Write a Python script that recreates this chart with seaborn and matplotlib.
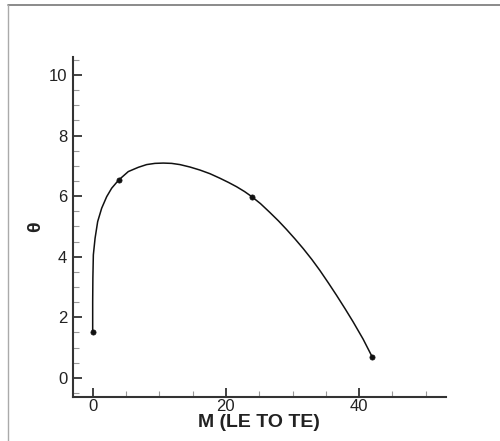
import matplotlib
matplotlib.use("Agg")
import matplotlib.pyplot as plt
from matplotlib.lines import Line2D
from matplotlib.ticker import MultipleLocator
import seaborn as sns
import pandas as pd

# Curve (M, theta)
curve_m = [0.0, 0.0, 0.03, 0.1, 0.36, 0.75, 1.35, 2.1, 2.85, 3.9, 5.35, 6.85,
           8.1, 9.35, 10.6, 11.85, 13.1, 14.6, 16.1, 17.6, 19.1, 20.4, 21.6,
           22.8, 23.9, 25.2, 26.6, 27.9, 29.1, 30.4, 31.6, 32.9, 34.1, 35.4,
           36.6, 37.9, 39.1, 40.6, 41.95]
curve_theta = [1.5, 2.5, 3.3, 4.06, 4.61, 5.16, 5.6, 5.98, 6.26, 6.53, 6.81, 6.95,
               7.04, 7.08, 7.09, 7.08, 7.04, 6.96, 6.86, 6.74, 6.59, 6.45, 6.31,
               6.15, 5.98, 5.75, 5.46, 5.18, 4.90, 4.58, 4.27, 3.91, 3.55, 3.13,
               2.73, 2.28, 1.85, 1.28, 0.70]

# Control points (markers)
point_m = [0.0, 3.9, 23.9, 41.95]
point_theta = [1.5, 6.53, 5.98, 0.70]

x_label = "M (LE TO TE)"
y_label = "\u03b8"

sns.set_style("ticks")
plt.rcParams["font.family"] = ["Liberation Sans", "DejaVu Sans"]

fig = plt.figure(figsize=(5.0, 4.41), dpi=100)
ax = fig.add_axes([0.1454, 0.1005, 0.746, 0.7695])

curve_df = pd.DataFrame({"m": curve_m, "theta": curve_theta})
pts_df = pd.DataFrame({"m": point_m, "theta": point_theta})

sns.lineplot(data=curve_df, x="m", y="theta", sort=False, estimator=None,
             color="#111111", linewidth=1.1, ax=ax)
sns.scatterplot(data=pts_df, x="m", y="theta", color="#111111", s=14,
                edgecolor="#111111", linewidth=0.5, ax=ax, zorder=3)

ax.set_xlim(-3, 53)
ax.set_ylim(-0.62, 10.58)
ax.xaxis.set_major_locator(MultipleLocator(20))
ax.xaxis.set_minor_locator(MultipleLocator(5))
ax.yaxis.set_major_locator(MultipleLocator(2))
ax.yaxis.set_minor_locator(MultipleLocator(0.5))

for s in ["top", "right"]:
    ax.spines[s].set_visible(False)
for s in ["left", "bottom"]:
    ax.spines[s].set_linewidth(1.5)
    ax.spines[s].set_color("#333333")

ax.tick_params(which="major", direction="in", length=6.5, width=1.3,
               color="#333333", labelsize=12, labelcolor="#222222")
ax.tick_params(axis="y", which="major", pad=4)
ax.tick_params(axis="x", which="major", pad=2)
ax.tick_params(which="minor", direction="in", length=4, width=0.8, color="#999999")

ax.set_xlabel(x_label, fontsize=14, fontweight="bold", color="#222222", labelpad=0)
ax.set_ylabel(y_label, fontsize=14, fontweight="bold", color="#222222", labelpad=3)

# Figure border (top and left only)
fig.add_artist(Line2D([8 / 500, 1.0], [1 - 4.5 / 441, 1 - 4.5 / 441],
                      transform=fig.transFigure, color="#777777", linewidth=1.2))
fig.add_artist(Line2D([8.3 / 500, 8.3 / 500], [0.0, 1 - 4.5 / 441],
                      transform=fig.transFigure, color="#aaaaaa", linewidth=1.0))

fig.savefig("out.png", dpi=100)
